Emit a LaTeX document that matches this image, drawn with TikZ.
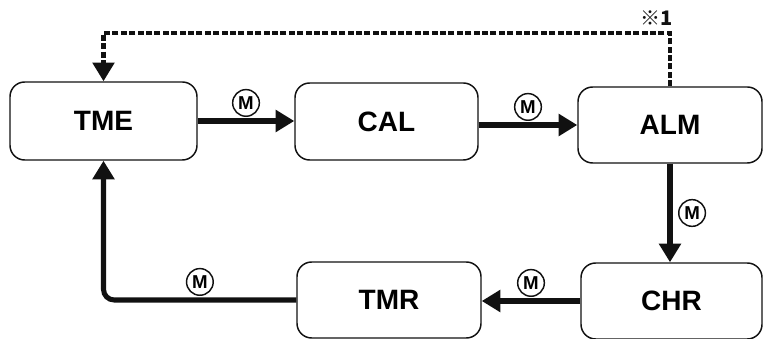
\documentclass[tikz,border=0pt]{standalone}
\usepackage{fontspec}
\setmainfont{Liberation Sans}
\newfontfamily\cjkfont{Noto Sans CJK JP}
\usepackage{xcolor}
\usetikzlibrary{arrows.meta}
\definecolor{ink}{HTML}{111111}
\tikzset{
  mode/.style={draw=ink, line width=1.1pt, rounded corners=11pt, minimum width=184*0.75pt,
    minimum height=77*0.75pt, inner sep=0pt, font=\bfseries\fontsize{21}{21}\selectfont},
  flow/.style={draw=ink, line width=3.8pt, -{Triangle[length=14pt,width=16pt]}},
  back/.style={flow, dash pattern=on 4.5pt off 1.8pt, line width=3.2pt},
  mkey/.style={circle, draw=ink, line width=1.1pt, minimum size=20pt, inner sep=0pt,
    fill=white, font=\bfseries\fontsize{14}{14}\selectfont},
  note/.style={font=\cjkfont\bfseries\fontsize{15}{15}\selectfont, text=ink},
}

\begin{document}
\begin{tikzpicture}[x=0.75pt, y=0.75pt]
  \useasboundingbox (0,0) rectangle (768,339);

  % top row
  \node[mode, minimum width=187*0.75pt, minimum height=78*0.75pt] (TME) at (103.5,218) {TME};
  \node[mode, minimum width=183*0.75pt] (CAL) at (386.5,217.5) {CAL};
  \node[mode, minimum height=76*0.75pt] (ALM) at (670,214) {ALM};
  % bottom row
  \node[mode, minimum height=76*0.75pt] (TMR) at (389,39) {TMR};
  \node[mode, minimum width=181*0.75pt, minimum height=76*0.75pt] (CHR) at (671.5,38) {CHR};

  \coordinate (dtop) at (103.5,306);

  \draw[flow] (TME.east) -- node[mkey, above=3pt] (m1) {M} (TME.east -| CAL.west);
  \draw[flow] (CAL.east |- ALM.west) -- node[mkey, above=3pt] (m2) {M} (ALM.west);
  \draw[flow] (ALM.south) -- node[mkey, right=6pt] (m3) {M} (ALM.south |- CHR.north);
  \draw[flow] (CHR.west) -- node[mkey, above=3pt] (m4) {M} (CHR.west -| TMR.east);
  \draw[flow, rounded corners=8pt] (TMR.west) -| node[mkey, above=3pt, pos=0.25] (m5) {M} (TME.south);

  % dashed return
  \draw[back] (ALM.north) |- (dtop) -- (TME.north);
  \node[note] (n1) at (657,321) {※1};
\end{tikzpicture}
\end{document}
